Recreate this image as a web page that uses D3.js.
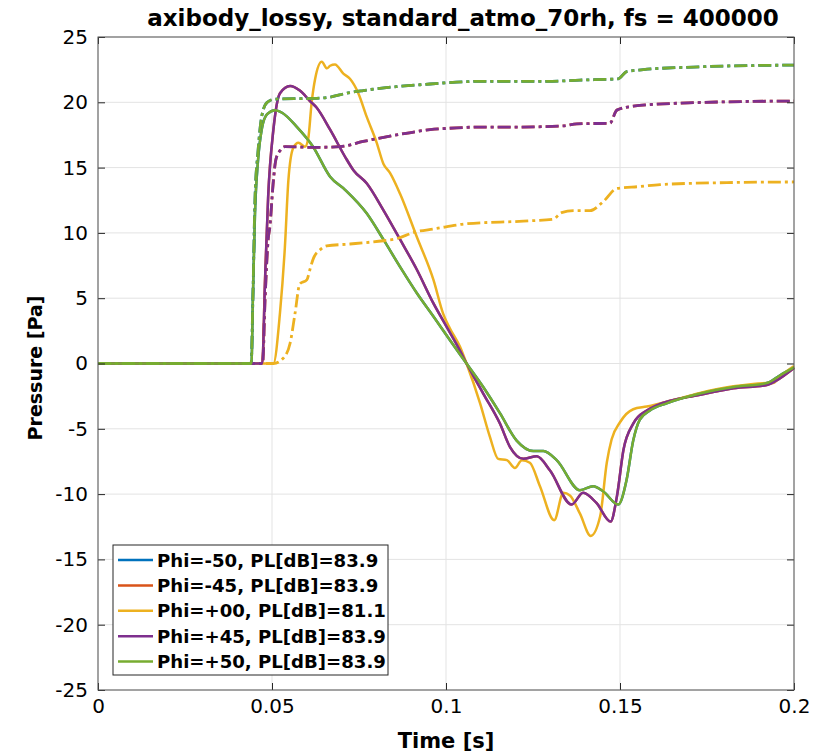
<html>
<head>
  <script src="https://d3js.org/d3.v7.min.js"></script>
  <style>
    body { margin: 0; background: #fff; }
    text { font-family: "DejaVu Sans", sans-serif; fill: #000; }
  </style>
</head>
<body>
  <div id="chart"></div>
  <script>

    // Pressure traces [time s, pressure Pa]
    var solidP50 = [[0,0],[0.0441,0],[0.0445,4.9],[0.0451,11.4],[0.0460,15.6],[0.0471,18.0],[0.0486,19.1],
      [0.0509,19.4],[0.0529,19.2],[0.0572,18.1],[0.0618,16.6],[0.0667,14.3],[0.0710,13.3],
      [0.0772,11.5],[0.0820,9.5],[0.0868,7.4],[0.0916,5.4],[0.0964,3.6],[0.1011,1.8],[0.1059,0],
      [0.1107,-1.8],[0.1155,-3.8],[0.1203,-5.9],[0.1251,-6.7],[0.1280,-6.7],[0.1318,-7.4],[0.1385,-9.7],
      [0.1423,-9.4],[0.1452,-9.8],[0.1495,-10.8],[0.1519,-8.9],[0.1538,-5.9],[0.1557,-4.3],[0.1586,-3.6],
      [0.1634,-3.05],[0.1730,-2.3],[0.1826,-1.8],[0.1922,-1.5],[0.1960,-0.9],[0.2000,-0.3]];

    var solidP45 = [[0,0],[0.0472,0],[0.0480,6.4],[0.0489,12.8],[0.0504,17.9],[0.0523,20.7],[0.0552,21.25],
      [0.0580,20.9],[0.0609,20.1],[0.0628,19.6],[0.0667,17.9],[0.0715,15.6],[0.0734,14.8],[0.0772,13.8],
      [0.0820,11.75],[0.0868,9.5],[0.0916,7.2],[0.0964,4.6],[0.1002,2.8],[0.1040,1.0],[0.1059,0],
      [0.1107,-2.3],[0.1155,-4.6],[0.1184,-6.4],[0.1222,-7.3],[0.1261,-7.1],[0.1299,-8.2],[0.1361,-10.8],
      [0.1394,-9.9],[0.1433,-10.7],[0.1473,-12.1],[0.1491,-10.2],[0.1510,-6.6],[0.1538,-4.6],[0.1577,-3.6],
      [0.1605,-3.2],[0.1730,-2.4],[0.1826,-1.9],[0.1922,-1.65],[0.1950,-1.3],[0.2000,-0.35]];

    var solidP00 = [[0,0],[0.0500,0],[0.0504,0],[0.0523,3.9],[0.0537,8.9],[0.0547,14.0],[0.0561,16.5],
      [0.0576,16.9],[0.0595,16.6],[0.0604,17.2],[0.0614,20.0],[0.0624,21.8],[0.0643,23.1],[0.0658,22.6],
      [0.0667,22.8],[0.0681,22.9],[0.0705,22.2],[0.0724,21.8],[0.0748,20.7],[0.0772,18.9],[0.0801,16.9],
      [0.0820,15.3],[0.0839,14.6],[0.0868,13.0],[0.0916,9.7],[0.0964,6.4],[0.0992,3.8],[0.1011,2.7],
      [0.1040,1.3],[0.1059,0],[0.1098,-3.05],[0.1126,-5.6],[0.1150,-7.3],[0.1175,-7.4],[0.1198,-8.0],
      [0.1218,-7.4],[0.1241,-7.6],[0.1270,-9.4],[0.1311,-12.0],[0.1337,-9.9],[0.1356,-10.1],[0.1385,-11.5],
      [0.1416,-13.2],[0.1443,-11.7],[0.1462,-7.6],[0.1476,-5.8],[0.1500,-4.5],[0.1538,-3.5],[0.1577,-3.3],
      [0.1634,-2.95],[0.1730,-2.25],[0.1826,-1.75],[0.1922,-1.5],[0.1940,-1.5],[0.1960,-1.0],[0.2000,-0.2]];

    // Dash-dot traces (running level)
    var dashP50 = [[0,0],[0.0440,0],[0.0445,4.9],[0.0451,12.5],[0.0460,16.3],[0.0471,19.0],[0.0486,20.0],
      [0.0509,20.25],[0.0618,20.3],[0.0667,20.4],[0.0715,20.7],[0.0762,20.9],[0.0858,21.2],[0.0954,21.4],
      [0.1002,21.5],[0.1098,21.6],[0.1289,21.6],[0.1385,21.7],[0.1495,21.8],[0.1519,22.35],[0.1567,22.5],
      [0.1711,22.7],[0.2000,22.85]];

    var dashP45 = [[0,0],[0.0473,0],[0.0480,4.9],[0.0489,9.5],[0.0494,10.5],[0.0503,13.7],[0.0511,15.6],
      [0.0523,16.3],[0.0537,16.6],[0.0619,16.55],[0.0695,16.6],[0.0762,17.0],[0.0858,17.5],[0.0954,17.9],
      [0.1002,18.0],[0.1098,18.1],[0.1193,18.1],[0.1337,18.2],[0.1376,18.35],[0.1471,18.4],[0.1491,19.4],
      [0.1538,19.7],[0.1711,19.97],[0.2000,20.1]];

    var dashP00 = [[0,0],[0.0504,0],[0.0532,0.4],[0.0552,1.55],[0.0566,3.8],[0.0580,6.1],[0.0600,6.4],
      [0.0609,7.2],[0.0619,8.05],[0.0638,8.7],[0.0657,9.0],[0.0724,9.15],[0.0820,9.4],[0.0849,9.5],
      [0.0916,10.1],[0.0964,10.3],[0.1059,10.7],[0.1222,10.9],[0.1308,11.05],[0.1332,11.55],[0.1366,11.7],
      [0.1414,11.7],[0.1452,12.4],[0.1491,13.4],[0.1557,13.55],[0.1615,13.7],[0.1807,13.85],[0.2000,13.9]];

    // -50 and -45 lie exactly under +50 and +45
    var solidM50 = solidP50, dashM50 = dashP50;
    var solidM45 = solidP45, dashM45 = dashP45;

    var labels = ["Phi=-50, PL[dB]=83.9", "Phi=-45, PL[dB]=83.9", "Phi=+00, PL[dB]=81.1",
                  "Phi=+45, PL[dB]=83.9", "Phi=+50, PL[dB]=83.9"];
    var colors = ["#0072BD", "#D95319", "#EDB120", "#7E2F8E", "#77AC30"];
    var solids = [solidM50, solidM45, solidP00, solidP45, solidP50];
    var dashes = [dashM50, dashM45, dashP00, dashP45, dashP50];

    var xTicks = [0, 0.05, 0.1, 0.15, 0.2];
    var yTicks = [-25, -20, -15, -10, -5, 0, 5, 10, 15, 20, 25];

    var margin = {top: 37, right: 27, bottom: 64, left: 98};
    var width = 821 - margin.left - margin.right;
    var height = 754 - margin.top - margin.bottom;

    var xScale = d3.scaleLinear().domain([0, 0.2]).range([0, width]);
    var yScale = d3.scaleLinear().domain([-25, 25]).range([height, 0]);

    var svg = d3.select("#chart")
      .append("svg")
        .attr("width", 821)
        .attr("height", 754);

    var g = svg.append("g")
        .attr("transform", `translate(${margin.left},${margin.top})`);

    // grid
    g.append("g").selectAll("line").data(xTicks).join("line")
        .attr("x1", d => xScale(d)).attr("x2", d => xScale(d))
        .attr("y1", 0).attr("y2", height)
        .style("stroke", "#e3e3e3");
    g.append("g").selectAll("line").data(yTicks).join("line")
        .attr("y1", d => yScale(d)).attr("y2", d => yScale(d))
        .attr("x1", 0).attr("x2", width)
        .style("stroke", "#e3e3e3");

    var line = d3.line()
      .x(d => xScale(d[0]))
      .y(d => yScale(d[1]))
      .curve(d3.curveMonotoneX);

    var plot = g.append("g");
    solids.forEach((s, i) => {
      plot.append("path").datum(s)
        .attr("d", line)
        .style("fill", "none")
        .style("stroke", colors[i])
        .style("stroke-width", 2.5);
    });
    dashes.forEach((s, i) => {
      plot.append("path").datum(s)
        .attr("d", line)
        .style("fill", "none")
        .style("stroke", colors[i])
        .style("stroke-width", 2.8)
        .style("stroke-dasharray", "13,4,3,4");
    });

    // axes
    function styleAxis(sel) {
      sel.select(".domain").remove();
      sel.selectAll(".tick line").style("stroke", "#262626");
      sel.selectAll(".tick text").style("font-size", "20px").style("fill", "#000")
        .style("font-family", "DejaVu Sans");
    }
    g.append("g")
        .attr("transform", `translate(0,${height})`)
        .call(d3.axisBottom(xScale).tickValues(xTicks).tickFormat(d3.format("~g"))
          .tickSizeInner(-7).tickSizeOuter(0).tickPadding(9))
        .call(styleAxis);
    g.append("g")
        .call(d3.axisLeft(yScale).tickValues(yTicks).tickFormat(d => d < 0 ? "-" + (-d) : d)
          .tickSizeInner(-7).tickSizeOuter(0).tickPadding(10))
        .call(styleAxis);
    g.append("g")
        .call(d3.axisTop(xScale).tickValues(xTicks).tickFormat("").tickSizeInner(-7).tickSizeOuter(0))
        .call(styleAxis);
    g.append("g")
        .attr("transform", `translate(${width},0)`)
        .call(d3.axisRight(yScale).tickValues(yTicks).tickFormat("").tickSizeInner(-7).tickSizeOuter(0))
        .call(styleAxis);

    g.append("rect")
        .attr("width", width).attr("height", height)
        .style("fill", "none").style("stroke", "#555").style("stroke-width", 1);

    // labels
    svg.append("text")
        .attr("x", 463).attr("y", 26)
        .attr("text-anchor", "middle")
        .style("font-size", "23px").style("font-weight", "bold")
        .text("axibody_lossy, standard_atmo_70rh, fs = 400000");
    svg.append("text")
        .attr("x", margin.left + width / 2).attr("y", 748)
        .attr("text-anchor", "middle")
        .style("font-size", "21px").style("font-weight", "bold")
        .text("Time [s]");
    svg.append("text")
        .attr("transform", "translate(42,368) rotate(-90)")
        .attr("text-anchor", "middle")
        .style("font-size", "19px").style("font-weight", "bold")
        .text("Pressure [Pa]");

    // legend
    var legend = svg.append("g").attr("transform", "translate(113,545)");
    legend.append("rect")
        .attr("width", 275).attr("height", 130)
        .style("fill", "#fff").style("stroke", "#262626").style("stroke-width", 1);
    var rows = legend.selectAll("g.row").data(labels).join("g")
        .attr("class", "row")
        .attr("transform", (d, i) => `translate(0,${15 + i * 25.4})`);
    rows.append("line")
        .attr("x1", 5).attr("x2", 40)
        .style("stroke", (d, i) => colors[i]).style("stroke-width", 2.5);
    rows.append("text")
        .attr("x", 44).attr("dy", "0.36em")
        .style("font-size", "18.1px").style("font-weight", "bold")
        .text(d => d);

  </script>
</body>
</html>
